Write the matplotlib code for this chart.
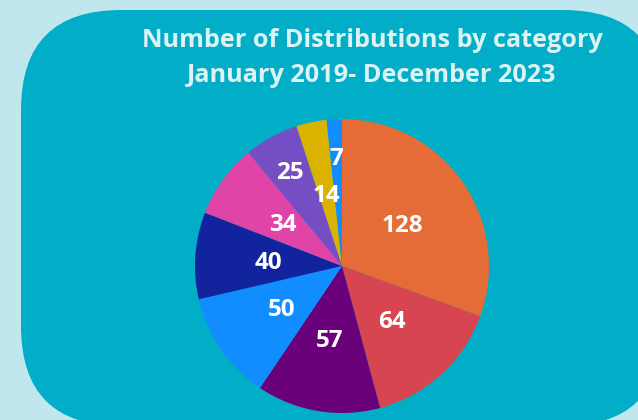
import numpy as np
import matplotlib.pyplot as plt
from matplotlib.patches import FancyBboxPatch

# counts per category, clockwise from 12 o'clock
counts = [128, 64, 57, 50, 40, 34, 25, 14, 7]
colors = ["#E66C37", "#D64550", "#6B007B", "#118DFF", "#12239E",
          "#E044A7", "#744EC2", "#D9B300", "#118DFF"]
title_lines = ["Number of Distributions by category",
               "January 2019- December 2023"]

W, H = 638, 420
fig = plt.figure(figsize=(W / 100, H / 100), dpi=100)
fig.patch.set_facecolor("#C0E7EE")
ax = fig.add_axes([0, 0, 1, 1])
ax.set_facecolor("#C0E7EE")

# rounded teal card, runs off the right and bottom edges
rad = 100
left, right, bottom, top = 21, 663, -6, 410
card = FancyBboxPatch((left + rad, bottom + rad),
                      right - left - 2 * rad, top - bottom - 2 * rad,
                      boxstyle=f"round,pad={rad}", fc="#02AEC7", ec="none")
ax.add_patch(card)

cx, cy, r = 342, H - 266, 147
wedges, _ = ax.pie(counts, colors=colors, startangle=90, counterclock=False,
                   center=(cx, cy), radius=r, frame=True,
                   wedgeprops=dict(linewidth=0))

# value labels inside the slices
total = sum(counts)
start = 90.0
for i, v in enumerate(counts):
    span = v / total * 360
    mid = np.deg2rad(start - span / 2)
    start -= span
    d = 0.74 if v in (25, 7) else 0.5
    ax.text(cx + d * r * np.cos(mid), cy + d * r * np.sin(mid) - 2, str(v),
            ha="center", va="center", color="white", fontsize=17.5,
            fontweight="bold", family="Open Sans")

ax.text(372, H - 47, title_lines[0], ha="center", va="baseline",
        color="#DDF3F3", fontsize=18.2, fontweight="bold", family="Open Sans")
ax.text(372, H - 82, title_lines[1], ha="center", va="baseline",
        color="#DDF3F3", fontsize=18.2, fontweight="bold", family="Open Sans")

ax.set_xlim(0, W)
ax.set_ylim(0, H)
ax.set_aspect("auto")
ax.axis("off")

fig.savefig("out.png", dpi=100, facecolor=fig.get_facecolor())
